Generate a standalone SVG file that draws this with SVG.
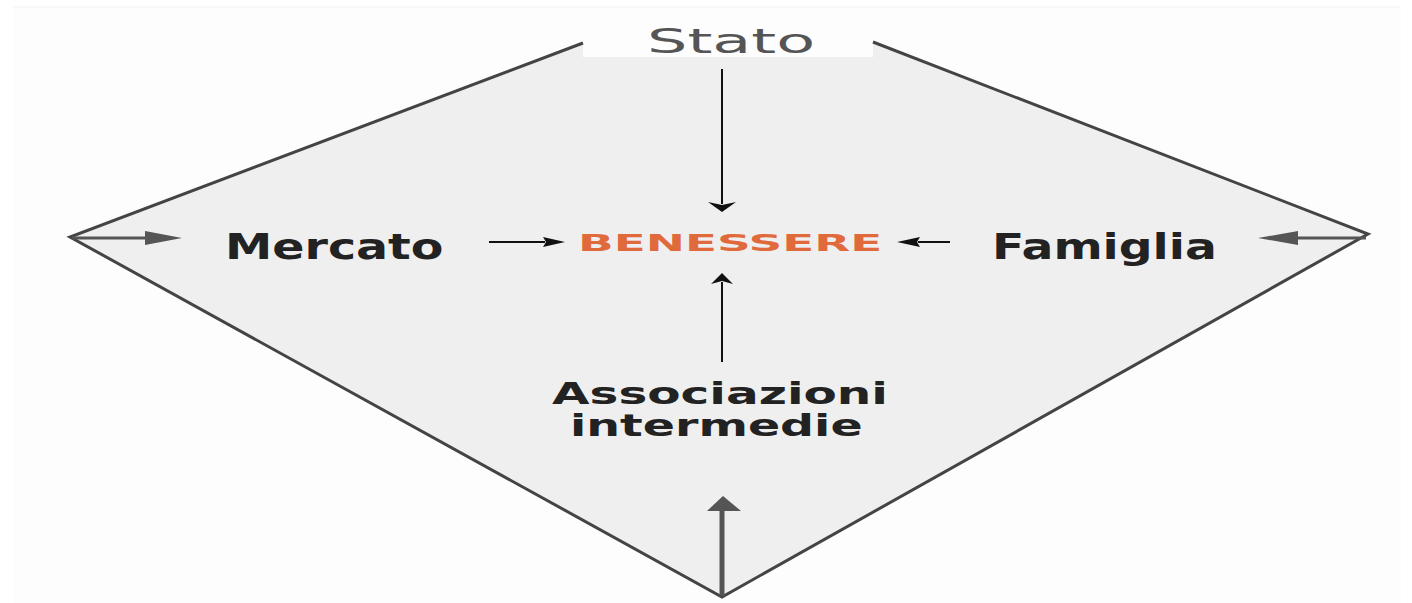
<svg xmlns="http://www.w3.org/2000/svg" width="1412" height="603" viewBox="0 0 1412 603">
  <style>
    .label { font-family: "DejaVu Sans", Verdana, sans-serif; font-weight: bold; fill: #222; }
    .title { font-family: "DejaVu Sans", Verdana, sans-serif; fill: #555; }
    .core { font-family: "DejaVu Sans", Verdana, sans-serif; font-weight: bold; fill: #e06a3c; }
    .edge { fill: none; stroke: #444; stroke-width: 3; stroke-linejoin: miter; }
    .inner { stroke: #111; stroke-width: 2; fill: none; }
    .inner-head { fill: #111; }
    .outer { stroke: #555; stroke-width: 3; fill: none; }
    .outer-head { fill: #555; }
  </style>

  <!-- page -->
  <rect x="0" y="0" width="1412" height="603" fill="#ffffff"/>
  <rect x="13" y="7" width="1388" height="596" fill="#fdfdfd"/>
  <line x1="13" y1="7" x2="1400" y2="7" stroke="#f1f1f1" stroke-width="1"/>

  <!-- diamond frame -->
  <g id="frame">
    <polygon points="70,237 583,43 873,42 1368,234 722,597" fill="#efefef"/>
    <rect x="583" y="8" width="290" height="49" fill="#fdfdfd"/>
    <polyline class="edge" points="583,43 70,237 722,597 1368,234 873,42"/>
  </g>

  <!-- nodes (wide lettering: glyphs stretched horizontally) -->
  <g id="stato">
    <text class="title" transform="translate(647,53) scale(1.45,1)" font-size="34" textLength="116" lengthAdjust="spacingAndGlyphs">Stato</text>
  </g>
  <g id="mercato">
    <text class="label" transform="translate(225,259) scale(1.3,1)" font-size="36" textLength="168" lengthAdjust="spacingAndGlyphs">Mercato</text>
  </g>
  <g id="benessere">
    <text class="core" transform="translate(578,251) scale(1.7,1)" font-size="23" textLength="179" lengthAdjust="spacingAndGlyphs">BENESSERE</text>
  </g>
  <g id="famiglia">
    <text class="label" transform="translate(992,259) scale(1.3,1)" font-size="36" textLength="173" lengthAdjust="spacingAndGlyphs">Famiglia</text>
  </g>
  <g id="associazioni">
    <text class="label" transform="translate(552,404) scale(1.4,1)" font-size="30" textLength="240" lengthAdjust="spacingAndGlyphs">Associazioni</text>
    <text class="label" transform="translate(570,436) scale(1.4,1)" font-size="30" textLength="209" lengthAdjust="spacingAndGlyphs">intermedie</text>
  </g>

  <!-- connectors -->
  <g id="connectors">
    <!-- Stato down to BENESSERE -->
    <line class="inner" x1="722" y1="69" x2="722" y2="204"/>
    <polygon class="inner-head" points="708,202 722,205 736,202 722,212"/>
    <!-- Mercato to BENESSERE -->
    <line class="inner" x1="489" y1="242" x2="545" y2="242"/>
    <polygon class="inner-head" points="543,237 546,242 543,247 565,242"/>
    <!-- Famiglia to BENESSERE -->
    <line class="inner" x1="950" y1="242" x2="918" y2="242"/>
    <polygon class="inner-head" points="920,237 917,242 920,247 897,242"/>
    <!-- Associazioni up to BENESSERE -->
    <line class="inner" x1="722" y1="362" x2="722" y2="282"/>
    <polygon class="inner-head" points="711,284 722,281 733,284 722,273"/>

    <!-- outer arrows from the corners -->
    <line class="outer" x1="72" y1="238" x2="148" y2="238"/>
    <polygon class="outer-head" points="145,231 182,238 145,245"/>
    <line class="outer" x1="1366" y1="238" x2="1295" y2="238"/>
    <polygon class="outer-head" points="1298,231 1258,238 1298,245"/>
    <line x1="722" y1="596" x2="722" y2="508" stroke="#555" stroke-width="5"/>
    <polygon class="outer-head" points="707,511 723,496 741,511"/>
  </g>
</svg>
